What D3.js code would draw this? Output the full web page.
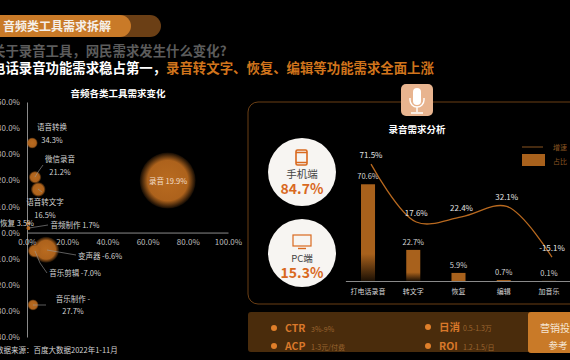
<!DOCTYPE html>
<html>
<head>
<meta charset="utf-8">
<style>
  html, body { margin: 0; padding: 0; background: #000; overflow: hidden; }
  text { font-family: "Noto Sans CJK SC", "Noto Sans", sans-serif; }
</style>
<script src="https://cdn.jsdelivr.net/npm/d3@7"></script>
</head>
<body>
<div id="chart"></div>
<script>
// bubble chart data
const toolNames = ["语音转换", "微信录音", "语音转文字", "录音", "恢复", "音频制作", "变声器", "音乐剪辑", "音乐制作"];
const toolShare = [2.6, 4, 5.6, 70, 0.7, 0.7, 9.5, 3.8, 3];
const toolGrowth = [34.3, 21.2, 16.5, 19.9, 3.5, 1.7, -6.6, -7.0, -27.7];
const toolVolume = [2.4, 3, 4.2, 60, 0.4, 0.4, 13, 3.6, 2.4];
const xTicks = [0, 20, 40, 60, 80, 100];
const yTicks = [-40, -30, -20, -10, 0, 10, 20, 30, 40, 50];

// recording demand data
const demandNames = ["打电话录音", "转文字", "恢复", "编辑", "加音乐"];
const demandShare = [70.6, 22.7, 5.9, 0.7, 0.1];
const demandGrowth = [71.5, 17.6, 22.4, 32.1, -15.1];

// marketing band
const marketItems = [["CTR", "3%-9%"], ["ACP", "1-3元/付费"], ["日消", "0.5-1.3万"], ["ROI", "1.2-1.5/日"]];

const orange = "#c97a28", deep = "#a8611c", hot = "#d9691e";

const svg = d3.select("#chart").append("svg")
  .attr("width", 570).attr("height", 360)
  .style("display", "block");

const defs = svg.append("defs");
const glow = defs.append("radialGradient").attr("id", "bubble");
glow.append("stop").attr("offset", "0%").attr("stop-color", "#b96b20");
glow.append("stop").attr("offset", "72%").attr("stop-color", "#ad621c");
glow.append("stop").attr("offset", "100%").attr("stop-color", "#ad621c").attr("stop-opacity", 0.1);
const fade = defs.append("linearGradient").attr("id", "barFade")
  .attr("x1", 0).attr("y1", 0).attr("x2", 0).attr("y2", 1);
fade.append("stop").attr("offset", "72%").attr("stop-color", deep);
fade.append("stop").attr("offset", "100%").attr("stop-color", "#1c1004");

// header
svg.append("rect").attr("x", -30).attr("y", 15).attr("width", 191).attr("height", 22).attr("rx", 11).attr("fill", "#6b3f15");
svg.append("rect").attr("x", -30).attr("y", 15).attr("width", 161).attr("height", 22).attr("rx", 11).attr("fill", orange);
svg.append("text").attr("x", 3).attr("y", 30.5).attr("fill", "#f6f0ea").attr("font-size", 12).attr("font-weight", 700).text("音频类工具需求拆解");
svg.append("text").attr("x", -8).attr("y", 56).attr("fill", "#5c5c5c").attr("font-size", 13.4).attr("font-weight", 700).text("关于录音工具，网民需求发生什么变化?");
const headline = svg.append("text").attr("x", -8).attr("y", 73).attr("font-size", 13.4).attr("font-weight", 700);
headline.append("tspan").attr("fill", "#fff").text("电话录音功能需求稳占第一，");
headline.append("tspan").attr("fill", "#d0741c").text("录音转文字、恢复、编辑等功能需求全面上涨");

// bubble chart
svg.append("text").attr("x", 118).attr("y", 97).attr("text-anchor", "middle").attr("fill", "#fff")
  .attr("font-size", 9.5).attr("font-weight", 700).text("音频各类工具需求变化");

const x = d3.scaleLinear().domain([0, 100]).range([27, 228]);
const y = d3.scaleLinear().domain([-40, 50]).range([337, 102]);
const r = d3.scaleSqrt().domain([0, 60]).range([0, 28]);
const pct = d => d.toFixed(1) + "%";

const yAxis = svg.append("g").attr("transform", `translate(${x(0)},0)`)
  .call(d3.axisLeft(y).tickValues(yTicks).tickFormat(pct).tickSize(0).tickPadding(7));
const xAxis = svg.append("g").attr("transform", `translate(0,${y(0)})`)
  .call(d3.axisBottom(x).tickValues(xTicks).tickFormat(pct).tickSize(0).tickPadding(7));
[xAxis, yAxis].forEach(a => {
  a.select(".domain").attr("stroke", "#8a8a8a");
  a.selectAll("text").attr("fill", "#bdbdbd").attr("font-size", 8).style("font-family", "\"Noto Sans CJK SC\"");
});

svg.append("g").selectAll("circle")
  .data(toolNames)
  .join("circle")
  .attr("cx", (d, i) => x(toolShare[i]))
  .attr("cy", (d, i) => y(toolGrowth[i]))
  .attr("r", (d, i) => r(toolVolume[i]))
  .attr("fill", "url(#bubble)");

// label placement, in the same order as the tools
const bubbleLabels = [
  { lines: [[52, 130, "语音转换"], [52, 143, "34.3%"]] },
  { lines: [[60, 162, "微信录音"], [60, 175, "21.2%"]], leader: [[35, 177], [38, 172], [43, 165]] },
  { lines: [[45, 205, "语音转文字"], [45, 218, "16.5%"]], leader: [[38, 189], [42, 192]] },
  { lines: [[168, 184, "录音 19.9%"]] },
  { lines: [[17, 226, "恢复 3.5%"]] },
  { lines: [[75, 228, "音频制作 1.7%"]], leader: [[29, 228], [48, 225]] },
  { lines: [[100, 259, "变声器 -6.6%"]], leader: [[47, 250], [76, 255]] },
  { lines: [[75, 276, "音乐剪辑 -7.0%"]], leader: [[35, 251], [40, 263], [47, 273]] },
  { lines: [[73, 302, "音乐制作 -"], [73, 314, "27.7%"]], leader: [[33, 305], [46, 305]] }
];
const leaderLine = d3.line();
bubbleLabels.forEach((lab, i) => {
  if (lab.leader) {
    svg.append("path").attr("d", leaderLine(lab.leader)).attr("fill", "none").attr("stroke", "#9a9a9a").attr("stroke-width", 0.6);
  }
  lab.lines.forEach(l => {
    svg.append("text").attr("x", l[0]).attr("y", l[1]).attr("text-anchor", "middle")
      .attr("fill", i === 3 ? "#f3dfca" : "#d4d4d4").attr("font-size", 7.5).text(l[2]);
  });
});

svg.append("text").attr("x", -4).attr("y", 353).attr("fill", "#d4d4d4").attr("font-size", 7.5).text("数据来源：百度大数据2022年1-11月");

// right panel
svg.append("rect").attr("x", 248).attr("y", 102).attr("width", 360).attr("height", 202).attr("rx", 10)
  .attr("fill", "none").attr("stroke", "#6b3f15");
const mic = svg.append("g");
mic.append("rect").attr("x", 401).attr("y", 84).attr("width", 32).attr("height", 32).attr("rx", 5).attr("fill", "#e8b48f");
mic.append("rect").attr("x", 413).attr("y", 88).attr("width", 8).attr("height", 17).attr("rx", 4).attr("fill", "#fff");
mic.append("path").attr("d", "M410 98v2a7 7 0 0 0 14 0v-2M417 107v5M411 113h12").attr("fill", "none").attr("stroke", "#fff").attr("stroke-width", 1.4);
svg.append("text").attr("x", 417).attr("y", 133).attr("text-anchor", "middle").attr("fill", "#fff")
  .attr("font-size", 9.5).attr("font-weight", 700).text("录音需求分析");

// phone / pc circles
svg.append("circle").attr("cx", 302).attr("cy", 172).attr("r", 34).attr("fill", "#f7f5f2");
svg.append("rect").attr("x", 296).attr("y", 150).attr("width", 11).attr("height", 15).attr("rx", 1.5).attr("fill", "none").attr("stroke", hot).attr("stroke-width", 1.6);
svg.append("path").attr("d", "M296 152.5h11M296 162.5h11").attr("stroke", hot).attr("stroke-width", 1.6);
svg.append("text").attr("x", 302).attr("y", 178).attr("text-anchor", "middle").attr("fill", "#444").attr("font-size", 10.5).text("手机端");
svg.append("text").attr("x", 302).attr("y", 194).attr("text-anchor", "middle").attr("fill", hot).attr("font-size", 14).attr("font-weight", 700).text("84.7%");
svg.append("circle").attr("cx", 302).attr("cy", 253).attr("r", 34).attr("fill", "#f7f5f2");
svg.append("rect").attr("x", 293).attr("y", 235).attr("width", 18).attr("height", 11).attr("fill", "none").attr("stroke", hot).attr("stroke-width", 1.2);
svg.append("path").attr("d", "M298 248.5h8").attr("stroke", hot).attr("stroke-width", 1.4);
svg.append("text").attr("x", 302).attr("y", 262).attr("text-anchor", "middle").attr("fill", "#444").attr("font-size", 9.5).text("PC端");
svg.append("text").attr("x", 302).attr("y", 277.5).attr("text-anchor", "middle").attr("fill", hot).attr("font-size", 14).attr("font-weight", 700).text("15.3%");

// bars and growth line
const band = d3.scaleBand().domain(demandNames).range([345.4, 571.6]).paddingInner(0.69).paddingOuter(0.345);
const barY = d3.scaleLinear().domain([0, 100]).range([281, 144]);
const lineY = d3.scaleLinear().domain([-20, 80]).range([262.4, 155]);
const centre = n => band(n) + band.bandwidth() / 2;

const bottomAxis = svg.append("g").attr("transform", `translate(0,${barY(0)})`)
  .call(d3.axisBottom(band).tickSize(0).tickPadding(8));
bottomAxis.select(".domain").attr("stroke", "#8a8a8a");
bottomAxis.selectAll("text").attr("fill", "#d4d4d4").attr("font-size", 7).style("font-family", "\"Noto Sans CJK SC\"");

svg.append("g").selectAll("rect")
  .data(demandNames)
  .join("rect")
  .attr("x", d => band(d))
  .attr("width", band.bandwidth())
  .attr("y", (d, i) => barY(demandShare[i]))
  .attr("height", (d, i) => barY(0) - barY(demandShare[i]))
  .attr("fill", (d, i) => demandShare[i] > 10 ? "url(#barFade)" : deep);

svg.append("g").selectAll("text")
  .data(demandNames)
  .join("text")
  .attr("x", d => centre(d))
  .attr("y", (d, i) => barY(demandShare[i]) - 5)
  .attr("text-anchor", "middle")
  .attr("fill", "#d4d4d4").attr("font-size", 7.5)
  .text((d, i) => demandShare[i] + "%");

const growthLine = d3.line()
  .x(d => centre(d) + 3)
  .y(d => lineY(demandGrowth[demandNames.indexOf(d)]))
  .curve(d3.curveCatmullRom.alpha(0.5));
svg.append("path").attr("d", growthLine(demandNames)).attr("fill", "none").attr("stroke", "#b8691f").attr("stroke-width", 1.3);

svg.append("g").selectAll("text")
  .data(demandNames)
  .join("text")
  .attr("x", d => centre(d) + 3)
  .attr("y", (d, i) => lineY(demandGrowth[i]) - 6)
  .attr("text-anchor", "middle")
  .attr("fill", "#e2e2e2").attr("font-size", 8)
  .text((d, i) => demandGrowth[i] + "%");

// legend
svg.append("line").attr("x1", 522).attr("x2", 543).attr("y1", 147).attr("y2", 147).attr("stroke", "#8a5520");
svg.append("rect").attr("x", 522).attr("y", 154).attr("width", 23).attr("height", 12).attr("fill", deep);
svg.append("text").attr("x", 553).attr("y", 150).attr("fill", "#8a5520").attr("font-size", 7).text("增速");
svg.append("text").attr("x", 553).attr("y", 164).attr("fill", "#8a5520").attr("font-size", 7).text("占比");

// marketing band
svg.append("rect").attr("x", 248).attr("y", 312).attr("width", 340).attr("height", 40).attr("rx", 3).attr("fill", "#4a2c0c");
const itemX = [285, 285, 439, 439], itemY = [332, 350, 331, 350], detailX = [311, 311, 463, 463];
marketItems.forEach((m, i) => {
  svg.append("circle").attr("cx", itemX[i] - 11).attr("cy", itemY[i] - 4).attr("r", 3).attr("fill", "#e07f2a");
  svg.append("text").attr("x", itemX[i]).attr("y", itemY[i]).attr("fill", "#d9782a").attr("font-size", 10.5).attr("font-weight", 700).text(m[0]);
  svg.append("text").attr("x", detailX[i]).attr("y", itemY[i]).attr("fill", "#9a6530").attr("font-size", 7).text(m[1]);
});
svg.append("rect").attr("x", 528).attr("y", 312).attr("width", 60).attr("height", 41).attr("rx", 3).attr("fill", orange);
svg.append("text").attr("x", 540).attr("y", 332).attr("fill", "#f6e6d4").attr("font-size", 10).text("营销投放");
svg.append("text").attr("x", 558).attr("y", 349).attr("text-anchor", "middle").attr("fill", "#f6e6d4").attr("font-size", 9.5).text("参考");
</script>
</body>
</html>
